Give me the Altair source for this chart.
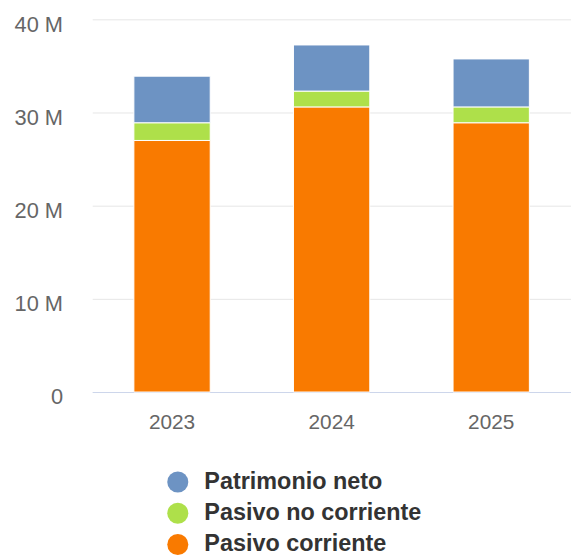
import altair as alt
import pandas as pd

years = ["2023", "2024", "2025"]
series = ["Patrimonio neto", "Pasivo no corriente", "Pasivo corriente"]
colors = ["#6d93c3", "#aee04a", "#f97a00"]
pasivo_corriente = [27.0e6, 30.6e6, 28.9e6]
pasivo_no_corriente = [1.9e6, 1.7e6, 1.7e6]
patrimonio_neto = [5.0e6, 4.95e6, 5.15e6]
y_ticks = [0, 10e6, 20e6, 30e6, 40e6]

rows = []
for i, y in enumerate(years):
    rows.append({"year": y, "serie": "Pasivo corriente", "value": pasivo_corriente[i], "ord": 0})
    rows.append({"year": y, "serie": "Pasivo no corriente", "value": pasivo_no_corriente[i], "ord": 1})
    rows.append({"year": y, "serie": "Patrimonio neto", "value": patrimonio_neto[i], "ord": 2})
df = pd.DataFrame(rows)

FONT = "Liberation Sans"

chart = alt.Chart(df).mark_bar(size=77, stroke="white", strokeWidth=1).encode(
    x=alt.X("year:N", title=None,
            scale=alt.Scale(paddingInner=0, paddingOuter=0),
            axis=alt.Axis(labelAngle=0, labelFontSize=21, labelColor="#666666", labelFont=FONT,
                          labelPadding=20, ticks=False, domainColor="#ccd6eb", domainWidth=1,
                          grid=False)),
    y=alt.Y("value:Q", title=None, stack="zero",
            scale=alt.Scale(domain=[0, 40e6], nice=False),
            axis=alt.Axis(values=y_ticks, labelExpr="datum.value == 0 ? '0' : (datum.value/1e6) + ' M'",
                          labelFontSize=22, labelColor="#666666", labelFont=FONT, labelPadding=30,
                          labelOffset=5, ticks=False, domain=False, gridColor="#e6e6e6", gridWidth=1)),
    color=alt.Color("serie:N", scale=alt.Scale(domain=series, range=colors),
                    legend=alt.Legend(title=None, orient="none", legendX=74.5, legendY=455,
                                      direction="vertical", symbolType="circle", symbolSize=452,
                                      symbolStrokeWidth=0, labelFontSize=23.6, labelFontWeight="bold",
                                      labelColor="#333333", labelFont=FONT, labelOffset=15,
                                      rowPadding=6.5, padding=0, labelLimit=400)),
    order=alt.Order("ord:Q", sort="ascending"),
).properties(
    width=483, height=376,
    autosize=alt.AutoSizeParams(type="none"),
    padding={"left": 85, "top": 9, "right": 0, "bottom": 164},
).configure_view(stroke=None)

chart.save("out.html", embed_options={"renderer": "svg", "actions": False})
